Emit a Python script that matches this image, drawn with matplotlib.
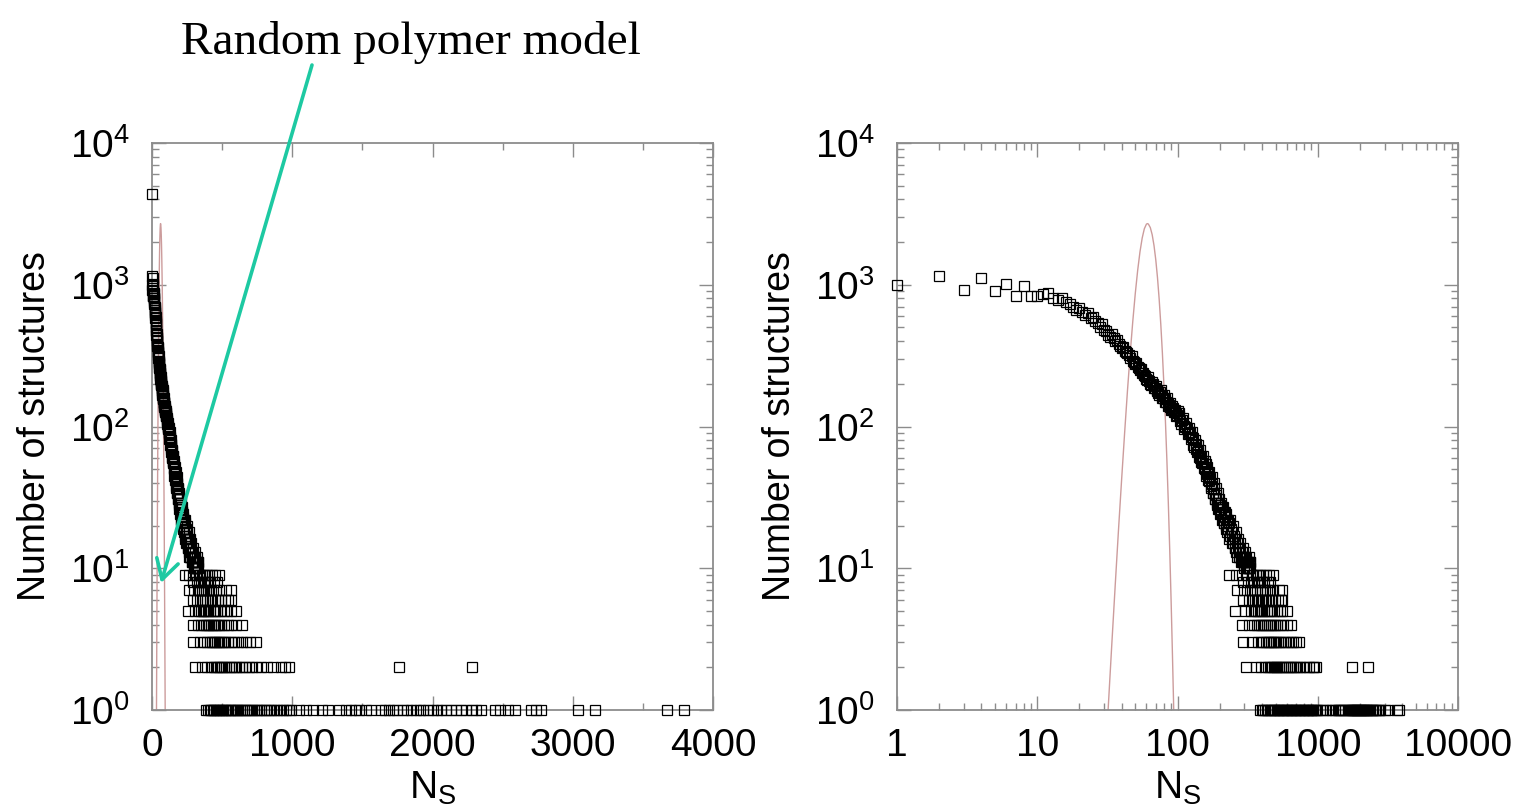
import numpy as np
import matplotlib
matplotlib.use('Agg')
import matplotlib.pyplot as plt
from matplotlib import ticker

plt.rcParams['font.family'] = ['Liberation Sans', 'DejaVu Sans']
plt.rcParams['mathtext.fontset'] = 'custom'
plt.rcParams['mathtext.rm'] = 'Liberation Sans'
plt.rcParams['mathtext.it'] = 'Liberation Sans'

# structure counts (N_s, number of structures)
ns_main = [0, 1, 2, 3, 4, 5, 6, 7, 8, 9, 10, 11, 12, 13, 14, 15,
           16, 17, 18, 19, 20, 21, 22, 23, 24, 25, 26, 27, 28, 29, 30,
           31, 32, 33, 34, 35, 36, 37, 38, 39, 40, 41, 42, 43, 44, 45,
           46, 47, 48, 49, 50, 51, 52, 53, 54, 55, 56, 57, 58, 59, 60,
           61, 63, 65, 67, 69, 71, 73, 75, 77, 79, 81, 83, 85, 87, 89,
           91, 93, 95, 97, 99,
           102, 105, 108, 111, 114, 117, 120, 123, 126, 129, 132, 135, 138,
           141, 144, 147, 150, 153, 156, 159, 162, 165, 168, 171, 174, 177,
           180, 183, 186, 189, 192, 195, 198, 201, 204, 207, 210, 213, 216,
           219, 222, 225, 228,
           231, 234, 237, 240, 243, 246, 249, 252, 255, 258, 261, 264, 267,
           270, 273, 276, 279, 282, 285, 288, 291, 294, 297, 300, 303, 306,
           309, 312, 315, 318, 321, 324, 327, 330]
counts_main = [4400, 1000, 1150, 920, 1120, 905, 1010, 830, 980, 830, 835, 860, 880, 800, 775, 805,
               760, 735, 700, 665, 690, 640, 615, 630, 580, 596, 555, 540, 506, 525, 480,
               470, 445, 430, 452, 419, 400, 410, 380, 372, 360, 366, 340, 335, 328, 318,
               305, 312, 292, 285, 275, 282, 262, 258, 250, 256, 240, 237, 230, 226, 218,
               214, 208, 196, 200, 186, 182, 172, 175, 165, 160, 156, 150, 146, 141, 138,
               132, 135, 128, 124, 120,
               118, 110, 112, 101, 99, 97, 90, 91, 85, 83, 72, 75, 66,
               67, 60, 62, 55, 57, 50, 54, 46, 47, 41, 43, 38, 39,
               34, 36, 31, 33, 28, 31, 26, 28, 24, 27, 22, 25, 21,
               23, 20, 22, 19,
               19, 21, 17, 19, 16, 18, 15, 17, 14, 16, 13, 15, 12,
               14, 12, 14, 13, 11, 12, 13, 11, 12, 10, 12, 11, 10,
               11, 10, 11, 11, 10, 10, 11, 10]

# extra scattered points in the dense part of the band
ns_fill = [62, 64, 66, 68, 70, 72, 74, 76, 78, 80, 82, 84, 86, 88, 90, 92, 94, 96, 98, 100]
counts_fill = [225, 200, 205, 188, 192, 178, 168, 181, 158, 166,
               149, 158, 139, 147, 130, 140, 126, 131, 118, 128]
ns_fill2 = [103, 106, 109, 112, 115, 118, 121, 124, 127, 130, 133, 136, 139, 142,
            145, 148, 151, 154, 157, 160, 163, 166, 169, 172, 175, 178, 181, 184,
            187, 190, 193, 196, 199, 202, 205, 208, 211, 214, 217, 220, 223, 226, 229]
counts_fill2 = [124, 104, 115, 96, 105, 88, 98, 82, 92, 74, 80, 69, 74, 61,
                68, 56, 62, 51, 57, 45, 52, 42, 48, 37, 44, 34, 40, 31,
                37, 29, 34, 26, 31, 24, 29, 22, 27, 21, 25, 19, 24, 18, 22]
ns_fill3 = [232, 238, 244, 250, 256, 262, 268, 274, 280, 286, 292, 298, 304, 310,
            316, 322, 328]
counts_fill3 = [16, 22, 15, 20, 14, 18, 16, 12, 15, 11, 14, 12, 13, 12, 10, 12, 11]

row_counts = [9, 8, 7, 6, 5, 4, 3, 2, 1]
ns_row9 = [232, 262, 290, 312, 338, 345, 360, 372, 390, 405, 430, 452, 476]
ns_row8 = [295, 318, 335, 350, 368, 380, 398, 415, 440, 460]
ns_row7 = [267, 300, 328, 342, 356, 371, 385, 400, 418, 436, 455, 480, 526, 560]
ns_row6 = [295, 322, 340, 355, 366, 378, 392, 410, 425, 448, 470, 492, 520, 545, 560]
ns_row5 = [255, 305, 333, 352, 362, 374, 388, 402, 415, 432, 450, 465, 488, 510,
           535, 560, 600]
ns_row4 = [290, 325, 350, 368, 382, 396, 408, 420, 435, 448, 462, 478, 495, 515,
           540, 565, 600, 640]
ns_row3 = [295, 340, 372, 395, 410, 425, 440, 452, 465, 478, 490, 505, 522, 540,
           562, 585, 610, 640, 670, 700, 740]
ns_row2 = [310, 360, 395, 420, 440, 455, 470, 485, 500, 515, 530, 548, 565, 582,
           600, 620, 640, 665, 690, 715, 745, 780, 820, 860, 920, 945, 975, 1760, 2285]
ns_row1 = [385, 398, 410, 421, 432, 443, 454, 465, 476, 487, 498, 509, 520, 531,
           542, 553, 565, 577, 590, 603, 616, 629, 642, 656, 670, 684, 699, 714,
           730, 746, 762, 779, 796, 814, 832, 851, 870, 890, 910, 931, 952, 975,
           992, 1045, 1095, 1150, 1215, 1255, 1335, 1385, 1420, 1445, 1475, 1525,
           1565, 1630, 1660, 1690, 1720, 1750, 1790, 1820, 1850, 1880, 1910, 1935,
           1965, 2000, 2030, 2060, 2095, 2130, 2165, 2200, 2240, 2280, 2310, 2345,
           2445, 2480, 2540, 2590, 2700, 2740, 2775, 3035, 3160, 3670, 3795]
row_ns = [ns_row9, ns_row8, ns_row7, ns_row6, ns_row5, ns_row4, ns_row3, ns_row2, ns_row1]

# random polymer model curve
model_ns = [31, 32, 34, 36, 38, 40, 42, 44, 46, 48, 50, 52, 54, 56, 58, 60, 61,
            62, 64, 66, 68, 70, 72, 74, 76, 78, 80, 82, 84, 86, 88, 90, 92, 94, 96]
model_counts = [0.58, 1.0, 2.9, 7.7, 19, 43, 91, 180, 327, 553, 868, 1263, 1705,
                2135, 2482, 2675, 2700, 2680, 2530, 2253, 1891, 1500, 1122, 792,
                527, 332, 196, 110, 58, 29, 13.6, 6.0, 2.5, 1.0, 0.4]

ns = list(ns_main) + ns_fill + ns_fill2 + ns_fill3
cs = list(counts_main) + counts_fill + counts_fill2 + counts_fill3
for c, row in zip(row_counts, row_ns):
    ns += row
    cs += [c] * len(row)
ns = np.array(ns, dtype=float)
cs = np.array(cs, dtype=float)

fig = plt.figure(figsize=(15.18, 8.09), dpi=100)
W, H = 1518, 809
ax1 = fig.add_axes([152 / W, 1 - 710 / H, 561 / W, 567 / H])
ax2 = fig.add_axes([897 / W, 1 - 710 / H, 561 / W, 567 / H])

grey = '#8c8c8c'
red = '#cc9c9c'
for ax in (ax1, ax2):
    ax.plot(model_ns, model_counts, color=red, lw=1.0, zorder=2)
    ax.set_yscale('log')
    ax.set_ylim(1, 1e4)
    for s in ax.spines.values():
        s.set_color(grey)
        s.set_linewidth(1.3)
    ax.tick_params(which='both', direction='in', top=True, right=True,
                   color=grey, width=1.0, labelsize=28)
    ax.tick_params(which='major', length=10)
    ax.tick_params(which='minor', length=5)
    ax.tick_params(axis='y', pad=16)
    ax.tick_params(axis='x', pad=13)
    ax.yaxis.set_major_locator(ticker.LogLocator(base=10, numticks=10))
    ax.yaxis.set_minor_locator(ticker.LogLocator(base=10, subs=np.arange(2, 10), numticks=10))
    ax.yaxis.set_minor_formatter(ticker.NullFormatter())
    ax.set_ylabel('Number of structures', fontsize=27, labelpad=12)
    ax.set_xlabel(r'$\mathrm{N}_\mathrm{S}$', fontsize=28, labelpad=4)

ax1.plot(ns, cs, 's', ms=7, mfc='none', mec='black', mew=0.9,
         clip_on=False, zorder=3)
ax1.set_xlim(0, 4000)
ax1.xaxis.set_major_locator(ticker.MultipleLocator(1000))
ax1.xaxis.set_minor_locator(ticker.MultipleLocator(500))

pos = ns > 0
ax2.plot(ns[pos], cs[pos], 's', ms=7, mfc='none', mec='black', mew=0.9,
         clip_on=False, zorder=3)
ax2.set_xscale('log')
ax2.set_xlim(1, 10000)
ax2.xaxis.set_major_locator(ticker.LogLocator(base=10, numticks=10))
ax2.xaxis.set_minor_locator(ticker.LogLocator(base=10, subs=np.arange(2, 10), numticks=10))
ax2.xaxis.set_major_formatter(ticker.FuncFormatter(lambda v, _: f'{v:g}'))
ax2.xaxis.set_minor_formatter(ticker.NullFormatter())

# annotation
fig.text(411 / W, 1 - 42 / H, 'Random polymer model', family='Liberation Serif',
         fontsize=34, ha='center', va='center')
ax1.annotate('', xy=(161 / W, 1 - 583 / H), xycoords='figure fraction',
             xytext=(312 / W, 1 - 65 / H), textcoords='figure fraction',
             arrowprops=dict(arrowstyle='->, head_length=0.7, head_width=0.4',
                             color='#1dc9a2', lw=2.6, mutation_scale=20,
                             shrinkA=0, shrinkB=0))

fig.savefig('out.png', dpi=100)
